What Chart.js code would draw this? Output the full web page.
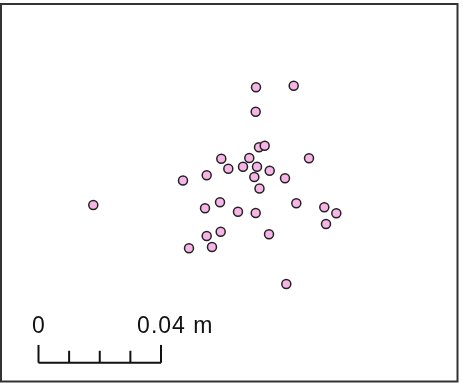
<!DOCTYPE html>
<html>
<head>
<meta charset="utf-8">
<script src="https://cdn.jsdelivr.net/npm/chart.js@4"></script>
<style>
  html, body { margin: 0; padding: 0; background: #fff; }
  canvas { display: block; }
</style>
</head>
<body>
<canvas id="map" width="463" height="383"></canvas>
<script>
// point positions, metres from the scale bar origin (y up)
const pointX = [0.07102, 0.08333, 0.07092, 0.07200, 0.07386, 0.05969, 0.06883, 0.08833,
                0.06198, 0.06678, 0.07135, 0.07549, 0.05492, 0.07047, 0.08049, 0.04718,
                0.07216, 0.05927, 0.05437, 0.06514, 0.07092, 0.08418, 0.09332, 0.09724,
                0.09388, 0.05949, 0.05492, 0.07527, 0.04914, 0.05665, 0.08091, 0.01789];
const pointY = [0.08993, 0.09045, 0.08196, 0.07033, 0.07086, 0.06661, 0.06684, 0.06674,
                0.06335, 0.06400, 0.06400, 0.06269, 0.06119, 0.06064, 0.06021, 0.05949,
                0.05688, 0.05238, 0.05042, 0.04931, 0.04888, 0.05205, 0.05074, 0.04878,
                0.04529, 0.04278, 0.04137, 0.04193, 0.03735, 0.03778, 0.02570, 0.05149];

// scale bar: 0 .. 0.04 m with minor ticks every 0.01
const scaleTicks = [0, 0.01, 0.02, 0.03, 0.04];
const scaleLabels = ['0', '0.04'];
const scaleLabelAt = [0, 0.04];
const scaleUnit = 'm';
const endTickHeight = 0.0058;
const midTickHeight = 0.0039;

// visible extent of the map
const xRange = [-0.012571, 0.138612];
const yRange = [-0.006629, 0.118434];

const points = pointX.map((x, i) => ({ x, y: pointY[i] }));

const barStyle = {
    type: 'line',
    borderColor: '#111',
    borderWidth: 2,
    pointRadius: 0,
    fill: false,
    tension: 0,
    borderCapStyle: 'butt',
};

const barDatasets = [
    { ...barStyle, data: [{ x: scaleTicks[0], y: 0 }, { x: scaleTicks[scaleTicks.length - 1], y: 0 }] },
    ...scaleTicks.map((t, i) => ({
        ...barStyle,
        data: [{ x: t, y: 0 }, { x: t, y: (i === 0 || i === scaleTicks.length - 1) ? endTickHeight : midTickHeight }],
    })),
];

// draws the map frame and the scale bar labels
const mapDecor = {
    id: 'mapDecor',
    afterDraw(chart) {
        const { ctx, scales: { x, y } } = chart;
        ctx.save();
        ctx.fillStyle = '#111';
        ctx.font = '23px "Liberation Sans", Arial, sans-serif';
        ctx.letterSpacing = '1px';
        ctx.textBaseline = 'alphabetic';
        const baseY = y.getPixelForValue(0) - 29.5;
        scaleLabels.forEach((lbl, i) => {
            const px = x.getPixelForValue(scaleLabelAt[i]);
            const w = ctx.measureText(lbl).width - 1;
            const text = i === scaleLabels.length - 1 ? lbl + ' ' + scaleUnit : lbl;
            ctx.textAlign = 'left';
            ctx.fillText(text, px - w / 2, baseY);
        });
        ctx.strokeStyle = '#333';
        ctx.lineWidth = 2;
        ctx.strokeRect(1, 4, 456.5, 377.5);
        ctx.restore();
    },
};

new Chart(document.getElementById('map'), {
    type: 'scatter',
    data: {
        datasets: [
            {
                data: points,
                backgroundColor: '#f7b4e6',
                borderColor: '#222',
                borderWidth: 1.5,
                pointRadius: 4.5,
            },
            ...barDatasets,
        ],
    },
    options: {
        responsive: false,
        animation: false,
        layout: { padding: 0, autoPadding: false },
        plugins: { legend: { display: false }, tooltip: { enabled: false } },
        scales: {
            x: { type: 'linear', display: false, min: xRange[0], max: xRange[1] },
            y: { type: 'linear', display: false, min: yRange[0], max: yRange[1] },
        },
    },
    plugins: [mapDecor],
});
</script>
</body>
</html>
